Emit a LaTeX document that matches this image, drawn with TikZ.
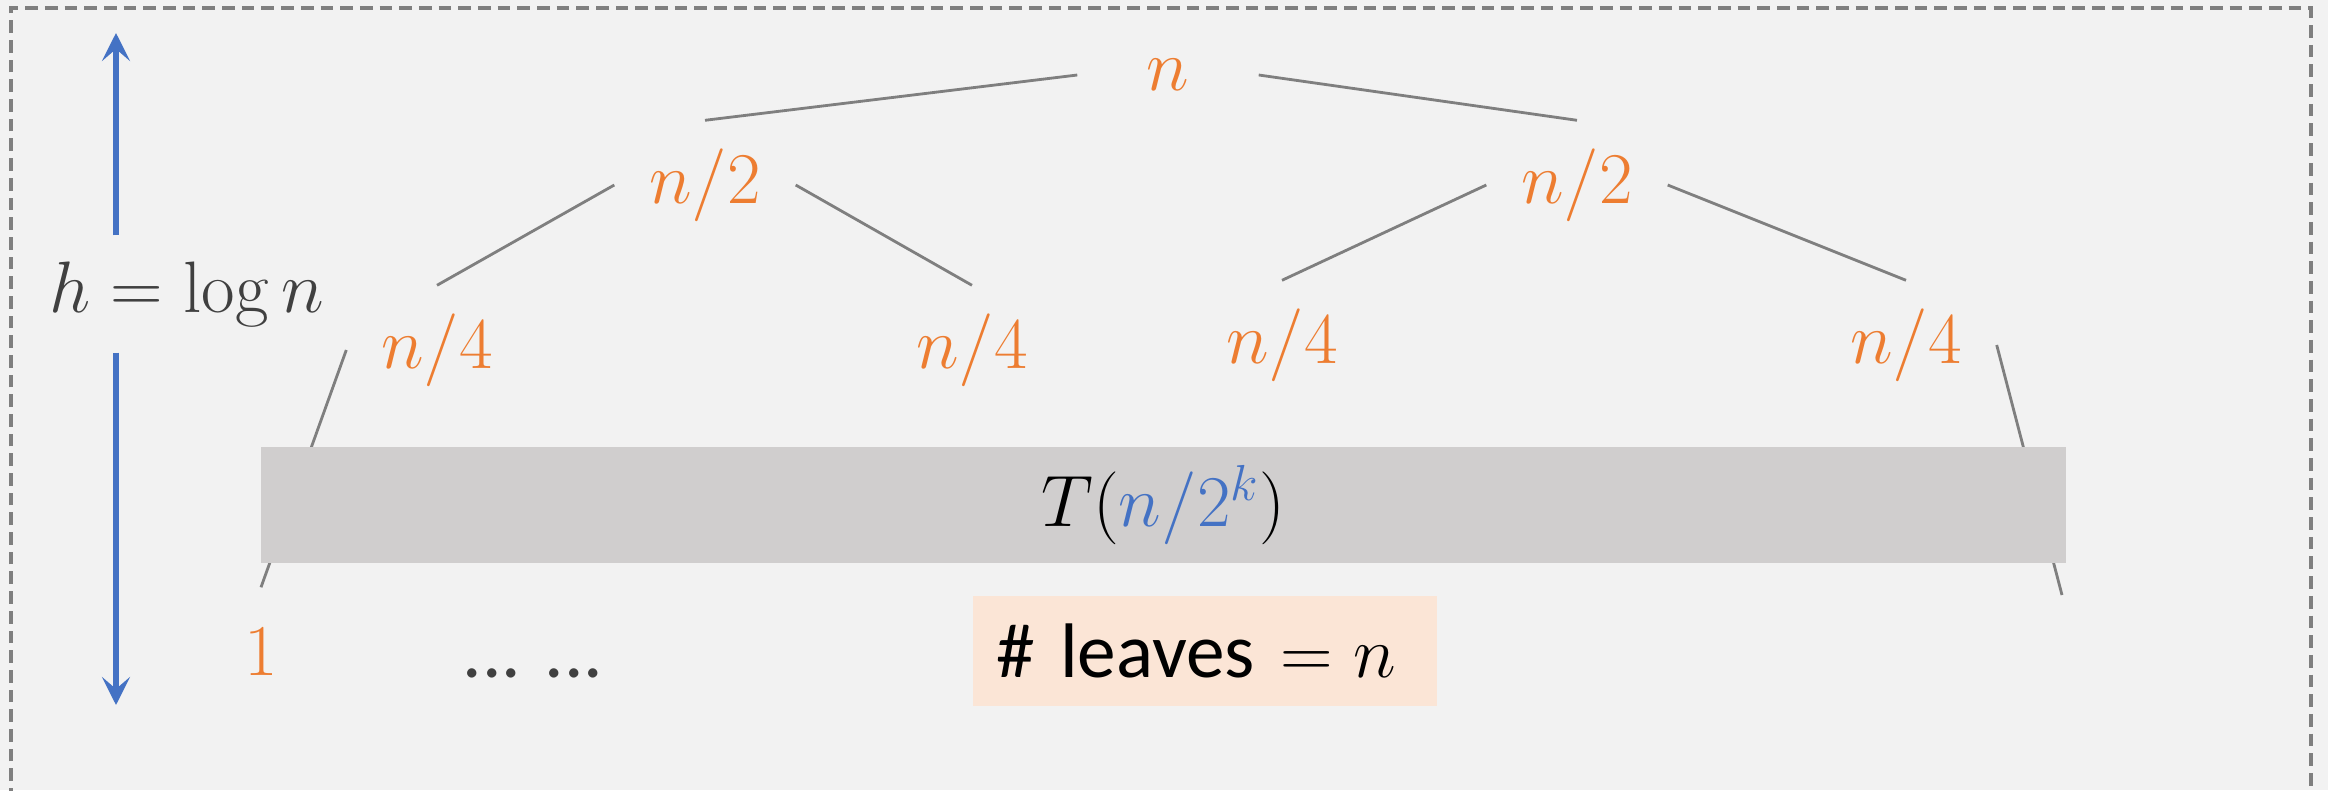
\documentclass[tikz,border=0pt]{standalone}
\usepackage[no-math]{fontspec}
\setmainfont{Carlito}
\usetikzlibrary{arrows.meta}
\definecolor{accorange}{HTML}{ED7D31}
\definecolor{accblue}{HTML}{4472C4}
\definecolor{txtgray}{HTML}{404040}
\definecolor{linegray}{HTML}{7F7F7F}
\definecolor{bggray}{HTML}{F2F2F2}
\definecolor{boxgray}{HTML}{D0CECE}
\definecolor{peach}{HTML}{FBE5D6}
\begin{document}
\begin{tikzpicture}[font=\fontsize{22}{26}\selectfont,
    tnode/.style={text=accorange, minimum width=1.8cm, minimum height=1.28cm, inner sep=0pt},
    edge/.style={draw=linegray, line width=0.8pt},
    harrow/.style={draw=accblue, line width=1.8pt, -{Stealth[length=2.8mm, width=2.8mm, inset=1.2mm]}},
    note/.style={text=txtgray, inner sep=0pt},
    rbox/.style={fill=boxgray, minimum width=18.05cm, minimum height=1.16cm, inner sep=0pt},
    leafbox/.style={fill=peach, text width=4.18cm, minimum height=1.10cm, inner xsep=0.23cm, inner ysep=0pt, align=left}]
  \useasboundingbox (0,0) rectangle (23.28,7.90);
  \fill[bggray] (0,0) rectangle (23.28,7.90);
  \draw[linegray, line width=0.9pt, dash pattern=on 3.6pt off 2pt] (0.11,-0.5) rectangle (23.11,7.82);
  % recursion tree
  \node[tnode] (root) at (11.68,7.15) {$n$};
  \node[tnode] (l2)   at (7.05,6.05)  {$n/2$};
  \node[tnode] (r2)   at (15.77,6.05) {$n/2$};
  \node[tnode] (qa)   at (4.37,4.40)  {$n/4$};
  \node[tnode] (qb)   at (9.72,4.40)  {$n/4$};
  \node[tnode] (qc)   at (12.82,4.45) {$n/4$};
  \node[tnode] (qd)   at (19.06,4.45) {$n/4$};
  \node[tnode] (leaf) at (2.61,1.38)  {$1$};
  \coordinate (rend) at (20.62,1.95);
  \draw[edge] (root.west) -- (l2.north);
  \draw[edge] (root.east) -- (r2.north);
  \draw[edge] (l2.west) -- (qa.north);
  \draw[edge] (l2.east) -- (qb.north);
  \draw[edge] (r2.west) -- (qc.north);
  \draw[edge] (r2.east) -- (qd.north);
  \draw[edge] (qa.west) -- (leaf.north);
  \draw[edge] (qd.east) -- (rend);
  % subproblem bar drawn over the edges
  \node[rbox] (bar) at (11.635,2.85) {$T(\textcolor{accblue}{n/2^k})$};
  \node[leafbox] (cnt) at (12.05,1.39) {\# leaves $= n$};
  \node[note, anchor=base] (dots) at (5.33,1.13) {... ...};
  % height
  \coordinate (htop) at (1.16,7.57);
  \coordinate (hbot) at (1.16,0.85);
  \node[note, minimum height=1.16cm] (hlab) at (1.87,4.96) {$h = \log n$};
  \draw[harrow] (hlab.north -| htop) -- (htop);
  \draw[harrow] (hlab.south -| hbot) -- (hbot);
\end{tikzpicture}
\end{document}
